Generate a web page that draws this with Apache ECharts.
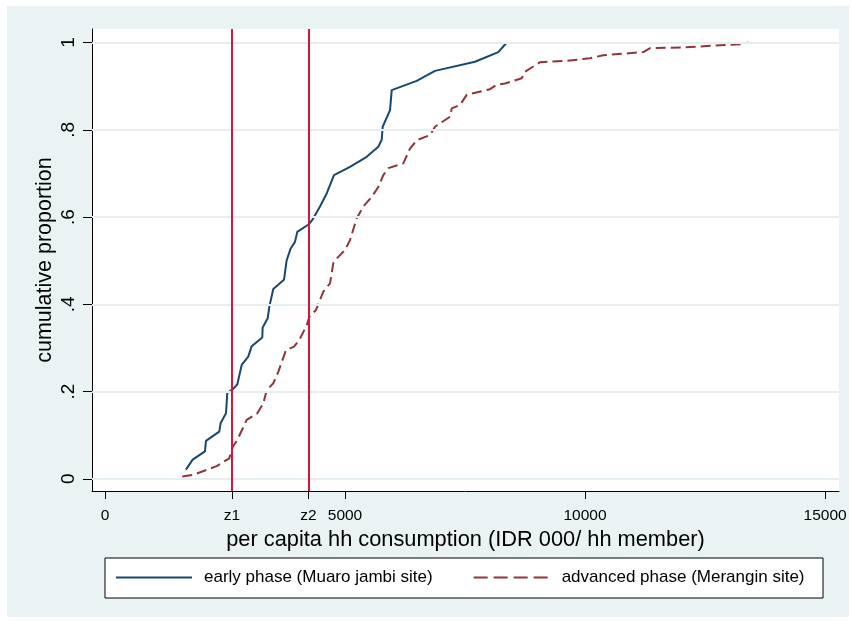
<!DOCTYPE html>
<html>
<head>
<meta charset="utf-8">
<script src="https://cdn.jsdelivr.net/npm/echarts@6/dist/echarts.min.js"></script>
<style>
html,body{margin:0;padding:0;background:#fff;}
#chart{width:851px;height:621px;}
</style>
</head>
<body>
<div id="chart"></div>
<script>
// Poverty lines
var z1 = 2646;
var z2 = 4240;

// x tick values and labels
var xTickValues = [0, z1, z2, 5000, 10000, 15000];
var xTickLabels = ['0', 'z1', 'z2', '5000', '10000', '15000'];
var yTickValues = [0, 0.2, 0.4, 0.6, 0.8, 1];
var yTickLabels = ['0', '.2', '.4', '.6', '.8', '1'];

// early phase (Muaro jambi site): consumption, cumulative proportion
var earlyX = [1687,1827,2083,2104,2381,2410,2521,2548,2660,2756,2848,2985,3056,3277,3285,3390,3423,3506,3729,3785,3869,3958,4006,4256,4340,4479,4619,4771,5104,5452,5694,5765,5785,5938,5973,6494,6875,7708,8194,8369];
var earlyY = [0.021,0.044,0.063,0.087,0.108,0.128,0.150,0.197,0.205,0.216,0.261,0.280,0.304,0.324,0.347,0.368,0.394,0.435,0.456,0.501,0.528,0.543,0.566,0.584,0.597,0.624,0.654,0.696,0.715,0.738,0.761,0.777,0.807,0.845,0.891,0.912,0.935,0.956,0.978,1.0];

// advanced phase (Merangin site)
var advX = [1610,1840,2327,2590,2660,2756,2952,3173,3298,3369,3506,3610,3771,3938,4048,4202,4256,4396,4479,4548,4688,4756,4827,5000,5104,5244,5381,5556,5694,5798,5902,6215,6354,6494,6771,6875,7188,7223,7396,7535,8021,8160,8333,8681,8750,9063,9619,10104,10381,11215,11354,12048,13229,13402];
var advY = [0.005,0.009,0.029,0.047,0.073,0.089,0.135,0.150,0.173,0.203,0.219,0.245,0.295,0.303,0.318,0.352,0.371,0.387,0.410,0.429,0.448,0.494,0.505,0.524,0.547,0.597,0.624,0.646,0.669,0.696,0.712,0.723,0.757,0.776,0.788,0.807,0.830,0.849,0.857,0.880,0.893,0.903,0.906,0.918,0.933,0.955,0.958,0.964,0.971,0.978,0.987,0.989,0.996,1.0];

var seriesNames = ['early phase (Muaro jambi site)', 'advanced phase (Merangin site)'];

function zip(a, b) { return a.map(function (v, i) { return [v, b[i]]; }); }

var FONT = 'Liberation Sans, Arial, sans-serif';
var chart = echarts.init(document.getElementById('chart'), null, {renderer: 'canvas'});

chart.setOption({
  animation: false,
  backgroundColor: '#ffffff',
  graphic: [
    {type: 'rect', z: -10, shape: {x: 7, y: 6, width: 842, height: 611}, style: {fill: '#eaf2f3'}},
    {type: 'rect', z: -5, shape: {x: 92, y: 29, width: 747, height: 462}, style: {fill: '#ffffff'}},
    {type: 'rect', z: 5, shape: {x: 105, y: 558, width: 718, height: 40}, style: {fill: '#ffffff', stroke: '#000000', lineWidth: 1}}
  ],
  grid: {left: 92, right: 12, top: 29, bottom: 130, containLabel: false},
  legend: {
    left: 115, top: 569, padding: 0,
    itemWidth: 76, itemHeight: 14, itemGap: 40,
    z: 10,
    itemStyle: {color: 'rgba(0,0,0,0)', borderWidth: 0, opacity: 0},
    textStyle: {fontFamily: FONT, fontSize: 17, color: '#000', padding: [0, 0, 0, 7]},
    data: [
      {name: seriesNames[0]},
      {name: seriesNames[1], lineStyle: {type: [14, 6]}}
    ]
  },
  xAxis: {
    type: 'value', min: -270, max: 15290,
    name: 'per capita hh consumption (IDR 000/ hh member)',
    nameLocation: 'middle', nameGap: 33,
    nameTextStyle: {fontFamily: FONT, fontSize: 21.8, color: '#000'},
    axisLine: {show: true, onZero: false, lineStyle: {color: '#000', width: 1}},
    axisTick: {show: true, length: 8, lineStyle: {color: '#000'}, customValues: xTickValues},
    axisLabel: {
      fontFamily: FONT, fontSize: 15.5, color: '#000', margin: 17,
      customValues: xTickValues,
      formatter: function (v) { var i = xTickValues.indexOf(v); return i >= 0 ? xTickLabels[i] : ''; }
    },
    splitLine: {show: false}
  },
  yAxis: {
    type: 'value', min: -0.028, max: 1.031,
    name: 'cumulative proportion',
    nameLocation: 'middle', nameGap: 36, nameRotate: 90, nameMoveOverlap: false,
    nameTextStyle: {fontFamily: FONT, fontSize: 21.5, color: '#000'},
    axisLine: {show: true, onZero: false, lineStyle: {color: '#000', width: 1}},
    axisTick: {show: true, length: 9, lineStyle: {color: '#000'}, customValues: yTickValues},
    axisLabel: {
      fontFamily: FONT, fontSize: 19, color: '#000', margin: 14, rotate: 90,
      customValues: yTickValues,
      formatter: function (v) {
        for (var i = 0; i < yTickValues.length; i++) { if (Math.abs(yTickValues[i] - v) < 1e-9) return yTickLabels[i]; }
        return '';
      }
    },
    splitLine: {show: false}
  },
  series: [
    {
      name: seriesNames[0], type: 'line', data: zip(earlyX, earlyY),
      symbol: 'none', smooth: false,
      lineStyle: {color: '#1a476f', width: 2}, itemStyle: {color: '#1a476f'},
      z: 3
    },
    {
      name: seriesNames[1], type: 'line', data: zip(advX, advY),
      symbol: 'none', smooth: false,
      lineStyle: {color: '#90353b', width: 2, type: [10, 5]}, itemStyle: {color: '#90353b'},
      z: 3
    },
    {
      name: 'grid', type: 'line', data: [], silent: true,
      markLine: {
        silent: true, symbol: 'none', label: {show: false},
        lineStyle: {color: '#e6eef0', width: 2, type: 'solid'},
        data: yTickValues.map(function (v) { return {yAxis: v}; })
      },
      z: 1
    },
    {
      name: 'povline', type: 'line', data: [], silent: true,
      markLine: {
        silent: true, symbol: 'none', label: {show: false},
        lineStyle: {color: '#d4163f', width: 2, type: 'solid'},
        data: [{xAxis: z1}, {xAxis: z2}]
      },
      z: 2
    }
  ]
});
</script>
</body>
</html>
